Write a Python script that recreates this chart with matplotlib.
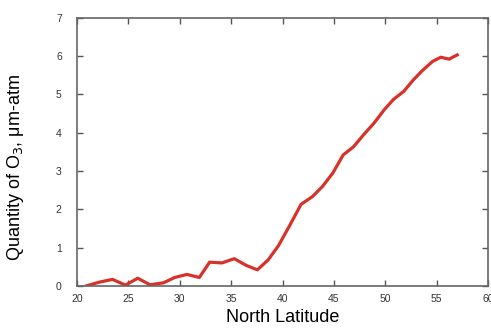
import numpy as np
import matplotlib
matplotlib.use("Agg")
import matplotlib.pyplot as plt

plt.rcParams['font.family'] = ['Liberation Sans', 'DejaVu Sans']

# values
latitude = [20.9, 22.2, 23.45, 24.7, 25.9, 27.1, 28.4, 29.5, 30.7, 31.9,
            32.9, 34.1, 35.3, 36.5, 37.55, 38.6, 39.6, 40.7, 41.8, 42.9,
            43.9, 44.9, 45.9, 46.9, 47.9, 48.9, 49.9, 50.8, 51.8, 52.7,
            53.6, 54.6, 55.4, 56.2, 57.0]
ozone = [0.0, 0.1, 0.17, 0.02, 0.2, 0.03, 0.08, 0.22, 0.3, 0.22,
         0.62, 0.6, 0.71, 0.53, 0.42, 0.68, 1.05, 1.58, 2.13, 2.33,
         2.6, 2.95, 3.42, 3.63, 3.95, 4.25, 4.6, 4.87, 5.08, 5.37,
         5.62, 5.86, 5.97, 5.92, 6.03]
x_ticks = [20, 25, 30, 35, 40, 45, 50, 55, 60]
y_ticks = [0, 1, 2, 3, 4, 5, 6, 7]

fig = plt.figure(figsize=(4.91, 3.29), dpi=100)
ax = fig.add_axes([0.157, 0.131, 0.837, 0.815])

ax.plot(latitude, ozone, color='#d8312a', lw=2.3, solid_joinstyle='round')

ax.set_xlim(20, 60)
ax.set_ylim(0, 7)
ax.set_xticks(x_ticks)
ax.set_yticks(y_ticks)
ax.tick_params(direction='in', length=4, width=1, colors='#555555',
               labelcolor='#333333', labelsize=7.5,
               top=True, right=True, pad=6)
ax.tick_params(axis='y', pad=11)
for s in ax.spines.values():
    s.set_color('#666666')
    s.set_linewidth(1.2)

ax.set_xlabel('North Latitude', fontsize=13)
ax.xaxis.set_label_coords(0.5, -0.088)
ax.set_ylabel('Quantity of O$_3$, μm-atm', fontsize=13)
ax.yaxis.set_label_coords(-0.125, 0.44)

fig.savefig('out.png', dpi=100)
